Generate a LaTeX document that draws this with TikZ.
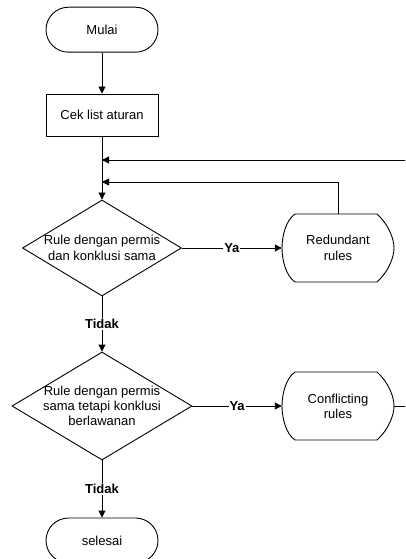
\documentclass[tikz,border=0pt]{standalone}
\usepackage{fontspec}
\setmainfont{Liberation Sans}
\usetikzlibrary{arrows.meta,shapes.geometric}
\begin{document}
\begin{tikzpicture}[x=1pt,y=-1pt,
 every node/.style={font=\fontsize{13}{15.3}\selectfont},
 line/.style={line width=0.9pt},
 arr/.style={line, -{Triangle[length=7pt,width=7pt]}},
 term/.style={draw,line width=0.9pt,minimum width=112pt,minimum height=45pt,rounded corners=22.5pt,inner sep=0},
 procbox/.style={draw,line width=0.9pt,minimum width=112pt,minimum height=42pt,inner sep=0},
 dec/.style={draw,diamond,line width=0.9pt,inner sep=0},
 disp/.style={minimum width=112pt,minimum height=68pt,inner sep=0,align=center},
 lbl/.style={fill=white,font=\bfseries\fontsize{13}{15.3}\selectfont,inner sep=1pt},
]
\useasboundingbox (0,0) rectangle (405,559);
\clip (0,0) rectangle (405,559);

\node[term] (mulai) at (102,29.7) {Mulai};
\node[procbox] (cek) at (102,115) {Cek list aturan};
\node[dec,minimum width=159pt,minimum height=96pt] (d1) at (102,248) {};
\node[align=center] (t1) at (d1.center) {Rule dengan permis\\dan konklusi sama};
\node[dec,minimum width=180pt,minimum height=108pt] (d2) at (102,406) {};
\node[align=center] (t2) at (d2.center) {Rule dengan permis\\sama tetapi konklusi\\berlawanan};
\node[term] (selesai) at (102,540.5) {selesai};

\node[disp] (red) at (338,248) {Redundant\\rules};
\draw[line] (295,214) -- (377,214) .. controls (388,224) and (394,238) .. (394,248)
  .. controls (394,258) and (388,272) .. (377,282) -- (295,282)
  .. controls (286,276) and (282,260) .. (282,248)
  .. controls (282,236) and (286,220) .. (295,214) -- cycle;
\node[disp] (conf) at (338,406) {Conflicting\\rules};
\draw[line] (295,372) -- (377,372) .. controls (388,382) and (394,396) .. (394,406)
  .. controls (394,416) and (388,430) .. (377,440) -- (295,440)
  .. controls (286,434) and (282,418) .. (282,406)
  .. controls (282,394) and (286,378) .. (295,372) -- cycle;

\coordinate (fb1) at (406,160);
\coordinate (j1) at (102,160);
\coordinate (j2) at (102,182);
\coordinate (out2) at (406,406);

\draw[arr] (mulai) -- (cek);
\draw[arr] (cek) -- (d1);
\draw[arr] (fb1) -- (j1);
\draw[arr] (red.north) |- (j2);
\draw[arr] (d1.east) -- node[lbl]{Ya} (red.west);
\draw[arr] (d1.south) -- node[lbl]{Tidak} (d2.north);
\draw[arr] (d2.east) -- node[lbl]{Ya} (conf.west);
\draw[arr] (d2.south) -- node[lbl]{Tidak} (selesai.north);
\draw[line] (conf.east) -- (out2);
\end{tikzpicture}
\end{document}
